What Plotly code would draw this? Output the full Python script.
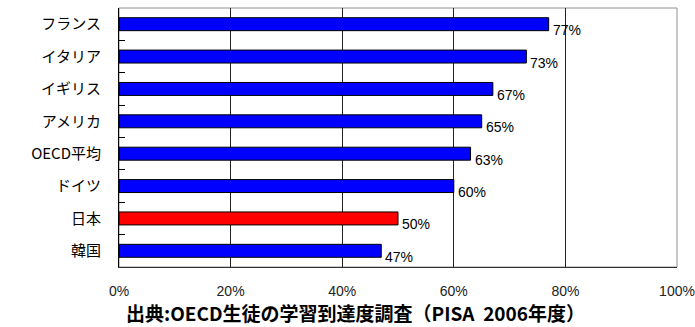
import plotly.graph_objects as go

countries = ["フランス", "イタリア", "イギリス", "アメリカ", "OECD平均", "ドイツ", "日本", "韓国"]
values = [77, 73, 67, 65, 63, 60, 50, 47]
colors = ["#0000FF", "#0000FF", "#0000FF", "#0000FF", "#0000FF", "#0000FF", "#FF0000", "#0000FF"]
x_ticks = [0, 20, 40, 60, 80, 100]
x_tick_labels = ["0%", "20%", "40%", "60%", "80%", "100%"]
source = "出典:OECD生徒の学習到達度調査（PISA\u00a0\u00a02006年度）"

narrow = "Liberation Sans Narrow, Arial Narrow, Liberation Sans, Arial, sans-serif"

fig = go.Figure(go.Bar(
    x=values, y=countries, orientation="h",
    marker=dict(color=colors, line=dict(color="#000000", width=1)),
    width=0.4, hoverinfo="skip",
))

for c, v in zip(countries, values):
    fig.add_annotation(x=v, y=c, text=f"{v}%", showarrow=False,
                       xanchor="left", yanchor="middle", xshift=2, yshift=-6,
                       font=dict(family=narrow, size=14, color="#000000"))

fig.add_annotation(x=0.424, y=0, xref="paper", yref="paper", text=f"<b>{source}</b>",
                   showarrow=False, xanchor="center", yanchor="bottom", yshift=-60,
                   borderpad=0,
                   font=dict(family="Noto Sans CJK JP", size=19, color="#000000", weight=900))

fig.add_shape(type="rect", xref="paper", yref="paper", x0=0, x1=1, y0=0, y1=1,
              line=dict(color="#909090", width=1), layer="below")

fig.update_layout(
    width=695, height=327,
    margin=dict(l=119, r=18, t=8, b=60),
    paper_bgcolor="white", plot_bgcolor="white",
    showlegend=False,
    font=dict(family="Noto Sans CJK JP", size=14, color="#000000"),
    xaxis=dict(range=[0, 100], tickvals=x_ticks, ticktext=x_tick_labels,
               showgrid=True, gridcolor="#222222", gridwidth=1,
               showline=True, linecolor="#333333", linewidth=1,
               zeroline=False, ticks="", ticklabelstandoff=11, automargin=False,
               tickfont=dict(family=narrow, size=14, color="#222222")),
    yaxis=dict(autorange="reversed", type="category", automargin=False,
               showline=True, linecolor="#000000", linewidth=1,
               ticks="inside", ticklen=6, tickcolor="#000000", tickson="boundaries",
               showgrid=False, ticklabelstandoff=14,
               tickfont=dict(family="Noto Sans CJK JP", size=15, color="#000000")),
    bargap=0.6,
)

fig.write_html("out.html")
